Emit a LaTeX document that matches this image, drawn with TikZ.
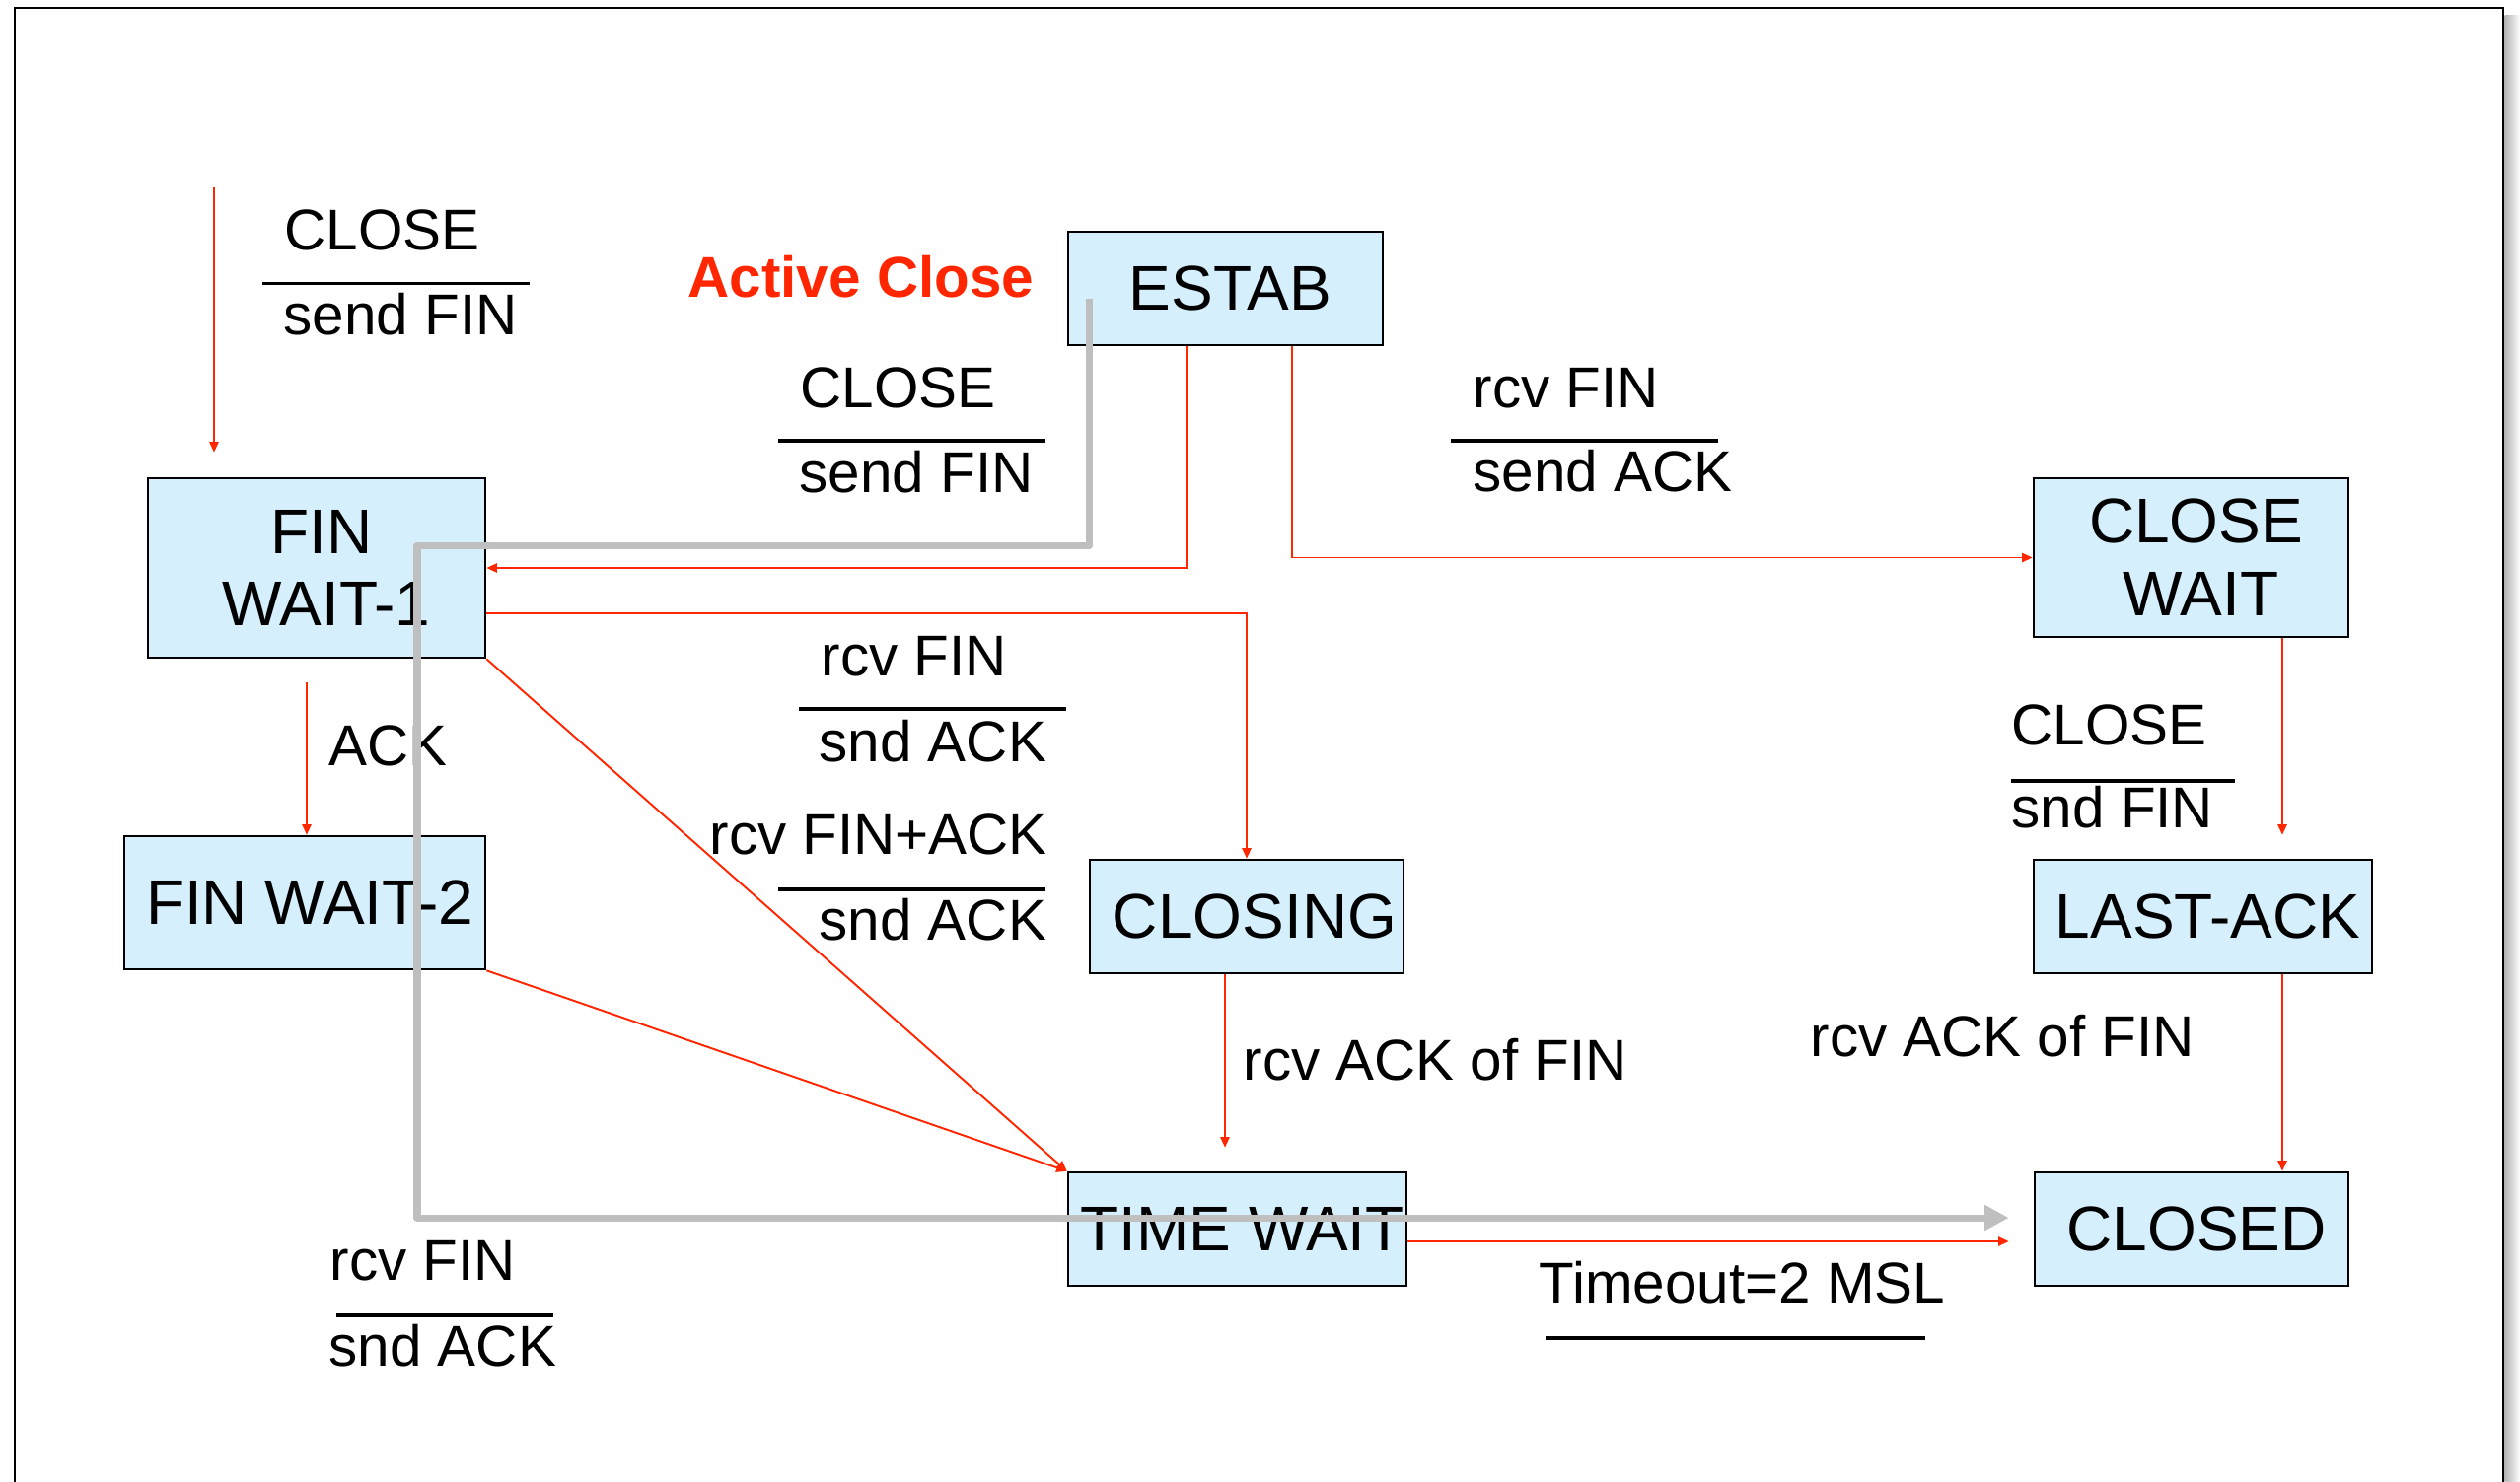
\documentclass[tikz,border=0pt]{standalone}
\usepackage{fontspec}
\setmainfont{Liberation Sans}
\usetikzlibrary{arrows.meta,calc}

\definecolor{boxblue}{RGB}{214,239,253}
\definecolor{slidered}{RGB}{255,38,0}
\definecolor{walkgray}{RGB}{191,191,191}

\tikzset{
  box/.style={draw=black, line width=0.7pt, fill=boxblue, rectangle, inner sep=0pt,
    align=center, font=\fontsize{18.2}{21}\selectfont,
    execute at begin node=\hspace*{0.1cm}},
  lbl/.style={anchor=base west, inner sep=0pt, font=\fontsize{16.6}{19.5}\selectfont},
  bar/.style={line width=1pt},
  tr/.style={slidered, line width=0.55pt, -{Triangle[length=3pt,width=2.6pt]}},
  walk/.style={walkgray, line width=2pt, line join=round, -{Triangle[length=7pt,width=7pt]}}
}

\begin{document}
\begin{tikzpicture}[x=0.01cm, y=-0.01cm]
  \useasboundingbox (0,0) rectangle (2555,1502);
  \fill[white] (0,0) rectangle (2555,1502);
  % slide frame
  \shade[left color=black!30, right color=white] (2539.5,15) rectangle (2555,1502);
  \draw[line width=0.6pt] (15,1510) -- (15,8) -- (2538,8) -- (2538,1510);

  % states
  \node[box, minimum width=3.19cm, minimum height=1.15cm] (estab) at (1242.5,292.5) {ESTAB};
  \node[box, minimum width=3.42cm, minimum height=1.82cm] (fw1) at (321,576) {FIN\\\hspace*{0.1cm}WAIT-1};
  \node[box, minimum width=3.19cm, minimum height=1.61cm] (cw) at (2221.5,565.5) {CLOSE\\\hspace*{0.1cm}WAIT};
  \node[box, minimum width=3.66cm, minimum height=1.35cm] (fw2) at (309,915.5) {FIN WAIT-2};
  \node[box, minimum width=3.18cm, minimum height=1.15cm] (closing) at (1264,929.5) {\hspace*{0.06cm}CLOSING};
  \node[box, minimum width=3.43cm, minimum height=1.15cm] (la) at (2233.5,929.5) {LAST-ACK};
  \node[box, minimum width=3.43cm, minimum height=1.15cm] (tw) at (1254.5,1246.5) {TIME WAIT};
  \node[box, minimum width=3.18cm, minimum height=1.15cm] (closed) at (2222,1246.5) {CLOSED};

  % labels
  \node[lbl, font=\fontsize{16.6}{19.5}\selectfont\bfseries, text=slidered] (active) at (697,301.5) {Active Close};
  \node[lbl] (c1a) at (288,253.5) {CLOSE};
  \node[lbl] (c1b) at (287,339) {send FIN};
  \draw[bar] (266,287.5) -- (537,287.5);
  \node[lbl] (c2a) at (811,413) {CLOSE};
  \node[lbl] (c2b) at (810,499) {send FIN};
  \draw[bar] (789,447) -- (1060,447);
  \node[lbl] (c3a) at (1493,413) {rcv FIN};
  \node[lbl] (c3b) at (1493,498) {send ACK};
  \draw[bar] (1471,447) -- (1742,447);
  \node[lbl] (c4a) at (832,685) {rcv FIN};
  \node[lbl] (c4b) at (830,772) {snd ACK};
  \draw[bar] (810,719) -- (1081,719);
  \node[lbl] (ack) at (333,776) {ACK};
  \node[lbl] (c5a) at (719,866) {rcv FIN+ACK};
  \node[lbl] (c5b) at (830,953.5) {snd ACK};
  \draw[bar] (789,902) -- (1060,902);
  \node[lbl] (c6) at (1260,1095) {rcv ACK of FIN};
  \node[lbl] (c7a) at (2039,755) {CLOSE};
  \node[lbl] (c7b) at (2039,839) {snd FIN};
  \draw[bar] (2039,792) -- (2266,792);
  \node[lbl] (c8) at (1835,1071) {rcv ACK of FIN};
  \node[lbl] (c9a) at (334,1298) {rcv FIN};
  \node[lbl] (c9b) at (333,1385.5) {snd ACK};
  \draw[bar] (341,1334) -- (561,1334);
  \node[lbl] (c10) at (1560,1321) {Timeout=2 MSL};
  \draw[bar] (1567,1357) -- (1952,1357);

  % transitions
  \coordinate (in0) at (217,190);
  \draw[tr] ($(estab.south)+(-39.5,0)$) |- (fw1.east);
  \draw[tr] ($(estab.south)+(67.5,0)$) |- (cw.west);
  \draw[tr] ($(fw1.east)+(0,46)$) -| (closing.north);
  \path[tr]
    (in0) edge ($(fw1.north)+(-104,-25)$)
    ($(fw1.south)+(-10,24)$) edge ($(fw2.north)+(2,0)$)
    (fw1.south east) edge (tw.north west)
    (fw2.south east) edge (tw.north west)
    ($(closing.south)+(-22,0)$) edge ($(tw.north)+(-12.5,-24)$)
    ($(cw.south)+(92.5,0)$) edge ($(la.north)+(80.5,-24)$)
    ($(la.south)+(80.5,0)$) edge ($(closed.north)+(92,0)$)
    ($(tw.east)+(0,12.5)$) edge ($(closed.west)+(-25,12.5)$);

  % active close walk
  \coordinate (g0) at ($(estab.west)+(23,10.5)$);
  \coordinate (gturn) at (423,553);
  \draw[walk] (g0) |- (gturn) |- ($(closed.west)+(-25,-11.5)$);
\end{tikzpicture}
\end{document}
